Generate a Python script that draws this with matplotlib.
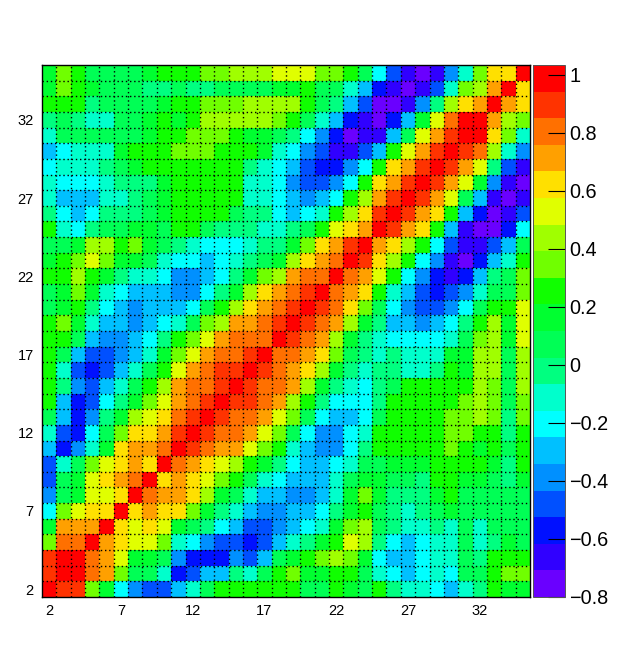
import numpy as np
import matplotlib
matplotlib.use("Agg")
import matplotlib.pyplot as plt
from matplotlib.colors import ListedColormap, BoundaryNorm

plt.rcParams['font.family'] = ['Liberation Sans', 'DejaVu Sans']

W, H = 628, 663

# lower triangle of the correlation matrix, one row per bin, bin 2 first
corr_rows = [
    [.98],
    [.89, .98],
    [.89, .98, .98],
    [.34, .80, .80, .98],
    [.16, .71, .71, .71, .98],
    [-.20, .34, .53, .62, .62, .98],
    [-.39, .07, .16, .53, .53, .62, .98],
    [-.48, .07, .16, .53, .62, .71, .80, .98],
    [-.48, -.11, .07, .34, .53, .62, .71, .62, .98],
    [-.30, -.57, -.39, -.11, .16, .62, .71, .71, .80, .98],
    [-.11, -.48, -.57, -.20, .07, .34, .62, .62, .71, .89, .98],
    [.07, -.30, -.57, -.39, -.02, .16, .43, .53, .62, .80, .89, .98],
    [.25, -.30, -.57, -.48, -.20, -.02, .16, .34, .53, .71, .80, .89, .98],
    [.25, -.02, -.39, -.48, -.30, -.11, .07, .25, .43, .71, .80, .80, .89, .98],
    [.25, -.11, -.48, -.57, -.48, -.30, -.11, .07, .25, .53, .71, .80, .89, .89, .98],
    [.25, .07, -.30, -.48, -.48, -.39, -.30, -.11, .16, .34, .53, .71, .80, .80, .89, .98],
    [.25, .25, .07, -.30, -.39, -.39, -.30, -.20, -.02, .25, .34, .53, .71, .80, .80, .80, .98],
    [.25, .34, .16, -.11, -.30, -.30, -.39, -.30, -.20, -.11, .07, .34, .43, .71, .71, .80, .89, .98],
    [.07, .16, .25, -.02, -.20, -.30, -.39, -.30, -.30, -.30, -.20, .07, .25, .43, .62, .71, .80, .89, .98],
    [.07, .16, .34, .16, -.11, -.20, -.30, -.30, -.30, -.39, -.39, -.20, -.02, .16, .43, .62, .71, .80, .89, .98],
    [.25, .25, .43, .25, .16, -.02, -.11, -.11, -.20, -.39, -.39, -.30, -.20, -.02, .16, .34, .43, .71, .80, .80, .98],
    [.16, .25, .34, .53, .34, .16, .16, .07, -.11, -.20, -.20, -.30, -.20, -.11, -.02, .07, .16, .43, .62, .71, .80, .98],
    [.07, .07, .16, .43, .43, .25, .34, .16, .07, -.02, -.11, -.20, -.20, -.20, -.11, -.02, -.02, .16, .34, .62, .71, .89, .98],
    [.25, -.11, -.20, -.02, .07, .07, .16, .16, .07, .25, .25, .07, -.02, -.02, -.02, -.11, -.11, -.02, .07, .25, .53, .62, .71, .98],
    [-.02, -.20, -.30, -.20, -.02, -.02, -.02, .07, .16, .25, .25, .25, .25, .07, -.02, -.02, -.20, -.30, -.20, -.11, .25, .43, .62, .89, .98],
    [-.11, -.30, -.30, -.30, -.11, -.11, -.02, .07, .16, .25, .25, .25, .25, .25, -.11, -.11, -.20, -.30, -.39, -.30, -.20, .25, .43, .71, .89, .98],
    [-.11, -.20, -.20, -.20, -.11, -.02, -.02, -.02, .16, .25, .25, .25, .25, .25, -.11, -.11, -.20, -.39, -.48, -.48, -.39, -.20, .25, .62, .71, .89, .98],
    [-.20, -.11, -.11, -.11, -.02, .07, .16, .25, .25, .25, .25, .25, .25, .25, -.02, -.11, -.20, -.30, -.48, -.57, -.57, -.39, -.20, .25, .62, .71, .89, .98],
    [-.30, -.20, -.11, -.11, -.11, .16, .25, .25, .25, .34, .34, .34, .25, .25, .25, .16, -.11, -.20, -.39, -.48, -.66, -.66, -.48, -.30, .25, .53, .71, .89, .98],
    [-.11, .07, .07, .07, .07, .07, .07, .16, .25, .25, .34, .34, .34, .25, .16, .16, .07, -.02, -.20, -.39, -.57, -.75, -.66, -.66, -.30, .07, .53, .71, .89, .98],
    [-.02, .07, -.02, -.11, -.11, .07, .07, .16, .25, .16, .25, .43, .43, .43, .43, .43, .34, .25, .07, -.11, -.30, -.57, -.66, -.75, -.57, -.30, .16, .53, .80, .98, .98],
    [.25, .25, .25, -.02, .07, .07, .07, .07, .16, .25, .25, .34, .34, .34, .43, .43, .43, .43, .25, .07, -.02, -.30, -.48, -.75, -.75, -.66, -.39, -.02, .43, .62, .71, .98],
    [.16, .34, .25, .16, .07, .07, .07, -.02, -.02, .07, -.02, -.02, .07, .07, .07, .07, .16, .16, .25, .07, .07, -.11, -.30, -.57, -.66, -.75, -.66, -.48, -.11, .34, .43, .71, .98],
    [.16, .34, .25, .07, .07, .07, .07, .16, .25, .25, .25, .34, .34, .43, .43, .43, .53, .53, .53, .34, .34, .25, .07, -.20, -.48, -.66, -.75, -.66, -.39, -.11, .34, .62, .62, .98],
]

tick_bins = [2, 7, 12, 17, 22, 27, 32]
cbar_ticks = [-0.8, -0.6, -0.4, -0.2, 0, 0.2, 0.4, 0.6, 0.8, 1]
cbar_labels = ['\u22120.8', '\u22120.6', '\u22120.4', '\u22120.2', '0', '0.2', '0.4', '0.6', '0.8', '1']
palette = ['#6a00ff', '#3000ff', '#0010ff', '#0050ff', '#0090ff', '#00c0ff', '#00ffff', '#00ffcc', '#00ff80', '#00ff55',
           '#00ff30', '#10ff00', '#70ff00', '#a0ff00', '#e0ff00', '#ffe000', '#ffa000', '#ff7000', '#ff3300', '#ff0000']

n = len(corr_rows)
corr = np.zeros((n, n))
for i, row in enumerate(corr_rows):
    corr[i, :i + 1] = row
    corr[:i + 1, i] = row

edges = np.arange(n + 1) + 1.5
levels = np.linspace(-0.8, 1.033, len(palette) + 1)
cmap = ListedColormap(palette)
norm = BoundaryNorm(levels, cmap.N)

fig = plt.figure(figsize=(W / 100, H / 100), dpi=100)
ax = fig.add_axes([42 / W, 1 - 597 / H, 488 / W, 532 / H])
mesh = ax.pcolormesh(edges, edges, corr, cmap=cmap, norm=norm)

ax.set_xticks(tick_bins)
ax.set_yticks(tick_bins)
ax.tick_params(axis='both', length=0, labelsize=10.5, pad=5)
ax.tick_params(axis='y', pad=6)
ax.set_xticks(edges[1:-1], minor=True)
ax.set_yticks(edges[1:-1], minor=True)
ax.tick_params(which='minor', length=0)
ax.grid(which='minor', color='black', linestyle=(0, (1, 2)), linewidth=1.0)
ax.set_axisbelow(False)
for s in ax.spines.values():
    s.set_linewidth(1.0)

cax = fig.add_axes([533 / W, 1 - 597 / H, 32 / W, 532 / H])
cbar = fig.colorbar(mesh, cax=cax, spacing='proportional', drawedges=False)
cbar.set_ticks(cbar_ticks, labels=cbar_labels)
cbar.minorticks_off()
cax.tick_params(axis='y', direction='in', length=12, width=0.8, labelsize=14.3, pad=3, color='black')
cbar.outline.set_linewidth(0.7)
cbar.outline.set_edgecolor('#555555')

fig.savefig('out.png', dpi=100)
